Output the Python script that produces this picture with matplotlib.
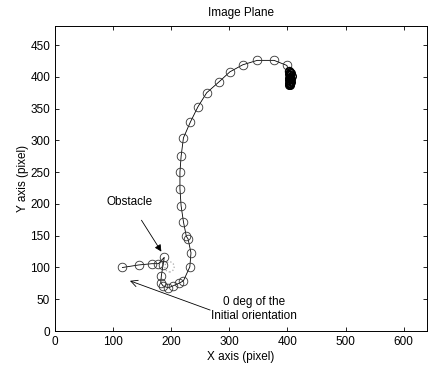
import matplotlib
matplotlib.use('Agg')
from matplotlib import pyplot as plt
from matplotlib.patches import Ellipse

plt.rcParams['font.family'] = ['Liberation Sans', 'DejaVu Sans']

# robot path in the image plane (pixel)
path_x = [116, 144, 167, 178, 188, 186, 183, 182, 186, 195, 203, 213, 221,
          232, 234, 229, 226, 221, 217, 215, 215, 217, 221, 233, 246, 261,
          282, 301, 323, 348, 377, 399]
path_y = [100, 104, 106, 106, 116, 104, 87, 76, 71, 68, 71, 75, 79,
          101, 123, 145, 149, 172, 197, 224, 250, 275, 304, 329, 353, 375,
          392, 408, 419, 426, 426, 418]

# final convergence: many small steps piled up on each other
end_x = [402, 404, 406, 403, 405, 407, 404, 402, 405, 406, 403, 404,
         406, 402, 405, 404, 403, 405]
end_y = [410, 408, 406, 405, 403, 401, 400, 398, 397, 396, 395, 393,
         392, 391, 390, 389, 388, 388]

obstacle = (197, 101)
xticks = [0, 100, 200, 300, 400, 500, 600]
yticks = [0, 50, 100, 150, 200, 250, 300, 350, 400, 450]

fig = plt.figure(figsize=(4.33, 3.67), dpi=100)
ax = fig.add_axes([0.127, 0.098, 0.859, 0.831])

ax.plot(path_x + end_x[:1], path_y + end_y[:1], color='black',
        linewidth=0.6, marker='o', markersize=6.2, markerfacecolor='none',
        markeredgecolor='#333333', markeredgewidth=0.6)
ax.plot(end_x, end_y, color='black', linewidth=0.8, marker='o',
        markersize=5.5, markerfacecolor='none', markeredgecolor='black',
        markeredgewidth=1.0)

ax.add_patch(Ellipse(obstacle, 16, 16, fill=False, edgecolor='#aaaaaa',
                     linestyle=':', linewidth=0.9))

ax.annotate('Obstacle', xy=(183, 125), xytext=(129, 203),
            ha='center', va='center', fontsize=8.5,
            arrowprops=dict(arrowstyle='-|>', color='black', lw=0.6,
                            mutation_scale=10, shrinkA=8, shrinkB=0))
ax.annotate('', xy=(129, 79), xytext=(267, 33),
            arrowprops=dict(arrowstyle='->', color='black', lw=0.6,
                            mutation_scale=12, shrinkA=0, shrinkB=0))
ax.text(343, 35, '0 deg of the\nInitial orientation', ha='center',
        va='center', fontsize=8.5, linespacing=1.2)

ax.set_xlim(0, 640)
ax.set_ylim(0, 480)
ax.set_xticks(xticks)
ax.set_yticks(yticks)
ax.tick_params(direction='in', top=True, right=True, labelsize=8.5,
               length=3, width=0.6)
for s in ax.spines.values():
    s.set_linewidth(0.7)

ax.set_title('Image Plane', fontsize=8.5, pad=7)
ax.set_xlabel('X axis (pixel)', fontsize=8.5, labelpad=2)
ax.set_ylabel('Y axis (pixel)', fontsize=8.5, labelpad=1)

fig.savefig('out.png', dpi=100)
